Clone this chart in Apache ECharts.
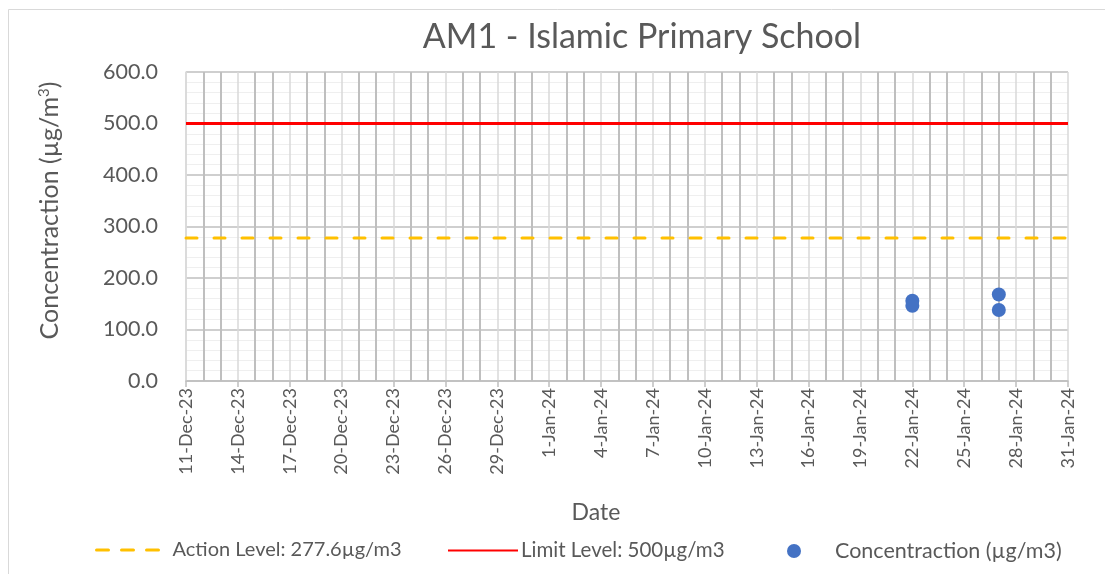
<!DOCTYPE html>
<html>
<head>
<meta charset="utf-8">
<script src="https://cdn.jsdelivr.net/npm/echarts@6/dist/echarts.min.js"></script>
<style>
  html, body { margin: 0; padding: 0; background: #ffffff; }
  #chart { width: 1105px; height: 574px; }
</style>
</head>
<body>
<div id="chart"></div>
<script>
// Monitoring data for station AM1
const axisStart = '2023-12-11';
const axisEnd = '2024-01-31';
const sampleDates = ['2024-01-22', '2024-01-22', '2024-01-27', '2024-01-27'];
const concentration = [156, 146, 168, 138];
const actionLevel = 277.6;
const limitLevel = 500;
const yMin = 0, yMax = 600, yStep = 100;
const dayStep = 3;

const seriesNames = {
  action: 'Action Level: 277.6µg/m3',
  limit: 'Limit Level: 500µg/m3',
  conc: 'Concentraction (µg/m3)'
};

const DAY = 86400000;
const months = ['Jan','Feb','Mar','Apr','May','Jun','Jul','Aug','Sep','Oct','Nov','Dec'];
const t0 = Date.parse(axisStart + 'T00:00:00Z');
const dayOffset = s => (Date.parse(s + 'T00:00:00Z') - t0) / DAY;
const xMax = dayOffset(axisEnd);
const fmtDate = v => {
  const d = new Date(t0 + Math.round(v) * DAY);
  return d.getUTCDate() + '-' + months[d.getUTCMonth()] + '-' + String(d.getUTCFullYear()).slice(2);
};

const points = sampleDates.map((s, i) => [dayOffset(s), concentration[i]]);
const FONT = 'Lato';
const GREY = '#595959';

const chart = echarts.init(document.getElementById('chart'), null, { renderer: 'canvas' });
const legendBase = {
  top: 540,
  padding: 0,
  itemHeight: 14,
  itemGap: 0,
  textStyle: { fontFamily: FONT, fontSize: 20.5, color: GREY },
  selectedMode: false
};

chart.setOption({
  animation: false,
  backgroundColor: '#ffffff',
  textStyle: { fontFamily: FONT },
  title: {
    text: 'AM1 - Islamic Primary School',
    left: 637,
    textAlign: 'center',
    top: 15,
    textStyle: { fontFamily: FONT, fontSize: 34, fontWeight: 'normal', color: GREY }
  },
  graphic: [{
    type: 'rect',
    shape: { x: 8.5, y: 9.5, width: 1200, height: 700 },
    style: { fill: 'none', stroke: '#d9d9d9', lineWidth: 1 },
    silent: true,
    z: -10
  }],
  legend: [
    Object.assign({}, legendBase, {
      left: 95, itemWidth: 73, data: [seriesNames.action],
      itemStyle: { opacity: 0 },
      lineStyle: { type: [12, 13], cap: 'round', width: 3 },
      textStyle: Object.assign({}, legendBase.textStyle, { fontSize: 20, padding: [0, 0, 0, -2] })
    }),
    Object.assign({}, legendBase, {
      left: 447, itemWidth: 70, data: [seriesNames.limit],
      itemStyle: { opacity: 0 },
      textStyle: Object.assign({}, legendBase.textStyle, { padding: [0, 0, 0, -2] })
    }),
    Object.assign({}, legendBase, {
      left: 787, itemWidth: 72, data: [{ name: seriesNames.conc, icon: 'circle' }],
      itemStyle: { opacity: 1 },
      textStyle: Object.assign({}, legendBase.textStyle, { fontSize: 21.5, padding: [0, 0, 0, 0] })
    })
  ],
  grid: { left: 186, right: 37, top: 72, bottom: 193, containLabel: false },
  xAxis: {
    type: 'value',
    min: 0,
    max: xMax,
    interval: dayStep,
    name: 'Date',
    nameLocation: 'middle',
    nameGap: 120,
    nameTextStyle: { fontFamily: FONT, fontSize: 23, color: GREY, padding: [0, 62, 0, 0] },
    axisLine: { show: true, lineStyle: { color: '#bfbfbf', width: 1.5 } },
    axisTick: { show: true, length: 6, lineStyle: { color: '#bfbfbf', width: 1.5 } },
    axisLabel: {
      rotate: 90,
      margin: 7,
      fontFamily: FONT,
      fontSize: 18,
      color: GREY,
      formatter: fmtDate
    },
    splitLine: { show: true, lineStyle: { color: '#d9d9d9', width: 1.5 } },
    minorTick: { show: false, splitNumber: dayStep },
    minorSplitLine: { show: true, lineStyle: { color: '#bfbfbf', width: 2 } }
  },
  yAxis: {
    type: 'value',
    min: yMin,
    max: yMax,
    interval: yStep,
    name: 'Concentraction (µg/m{sup|3})',
    nameLocation: 'middle',
    nameGap: 124,
    nameTextStyle: {
      fontFamily: FONT, fontSize: 25, color: GREY, padding: [0, 0, 0, 32],
      rich: { sup: { fontFamily: FONT, fontSize: 15, color: GREY, verticalAlign: 'top', padding: [0, 0, 10, 0] } }
    },
    axisLine: { show: true, lineStyle: { color: '#d9d9d9', width: 1.5 } },
    axisTick: { show: false },
    axisLabel: {
      margin: 28,
      fontFamily: FONT,
      fontSize: 21.5,
      color: GREY,
      formatter: v => v.toFixed(1)
    },
    splitLine: { show: true, lineStyle: { color: '#bfbfbf', width: 1.5 } },
    minorTick: { show: false, splitNumber: 5 },
    minorSplitLine: { show: true, lineStyle: { color: '#efefef', width: 1 } }
  },
  series: [
    {
      name: seriesNames.action,
      type: 'line',
      data: [[0, actionLevel], [xMax, actionLevel]],
      symbol: 'none',
      color: '#FFC000',
      lineStyle: { color: '#FFC000', width: 3, type: [11, 17], cap: 'round' },
      z: 3
    },
    {
      name: seriesNames.limit,
      type: 'line',
      data: [[0, limitLevel], [xMax, limitLevel]],
      symbol: 'none',
      color: '#FF0000',
      lineStyle: { color: '#FF0000', width: 3 },
      z: 3
    },
    {
      name: seriesNames.conc,
      type: 'scatter',
      data: points,
      symbol: 'circle',
      symbolSize: 14,
      itemStyle: { color: '#4472C4', opacity: 1 },
      z: 4
    }
  ]
});
</script>
</body>
</html>
